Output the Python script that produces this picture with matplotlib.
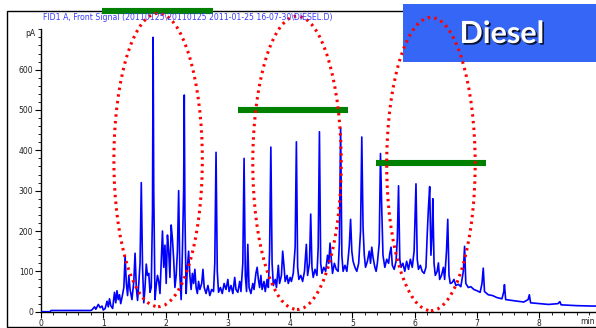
import matplotlib
matplotlib.use('Agg')
import matplotlib.pyplot as plt
import matplotlib.patheffects as pe
from matplotlib.patches import Ellipse, Rectangle
from matplotlib.ticker import MultipleLocator

plt.rcParams['font.family'] = ['Liberation Sans Narrow', 'DejaVu Sans']

# Cromatograma FID1 A - diesel (tempo em min, sinal em pA)
time_min = [
    0.00, 0.15, 0.16, 0.80, 0.82, 0.86, 0.88, 0.92, 0.95, 0.98, 1.00, 1.03, 1.06, 1.08,
    1.10, 1.12, 1.15, 1.18, 1.20, 1.22, 1.24, 1.26, 1.28, 1.30, 1.33, 1.35, 1.37, 1.39,
    1.41, 1.43, 1.46, 1.49, 1.51, 1.53, 1.55, 1.57, 1.59, 1.61, 1.63, 1.65, 1.67, 1.69,
    1.71, 1.73, 1.75, 1.77, 1.79, 1.80, 1.81, 1.83, 1.85, 1.87, 1.89, 1.91, 1.93, 1.95,
    1.97, 1.99, 2.01, 2.03, 2.05, 2.07, 2.09, 2.11, 2.13, 2.15, 2.17, 2.19, 2.21, 2.23,
    2.25, 2.27, 2.29, 2.30, 2.31, 2.33, 2.35, 2.37, 2.39, 2.41, 2.43, 2.45, 2.47, 2.49,
    2.51, 2.53, 2.55, 2.58, 2.60, 2.62, 2.65, 2.68, 2.71, 2.74, 2.77, 2.79, 2.81, 2.83,
    2.85, 2.88, 2.91, 2.94, 2.97, 3.00, 3.02, 3.05, 3.08, 3.11, 3.13, 3.16, 3.19, 3.21,
    3.24, 3.26, 3.28, 3.30, 3.32, 3.34, 3.37, 3.40, 3.42, 3.45, 3.47, 3.49, 3.51, 3.53,
    3.55, 3.58, 3.60, 3.63, 3.65, 3.67, 3.69, 3.71, 3.73, 3.76, 3.78, 3.81, 3.83, 3.86,
    3.88, 3.90, 3.92, 3.95, 3.97, 4.00, 4.02, 4.05, 4.08, 4.10, 4.12, 4.14, 4.17, 4.20,
    4.23, 4.26, 4.28, 4.31, 4.33, 4.35, 4.37, 4.40, 4.43, 4.45, 4.47, 4.49, 4.51, 4.54,
    4.57, 4.60, 4.62, 4.64, 4.66, 4.68, 4.71, 4.74, 4.77, 4.79, 4.81, 4.83, 4.85, 4.88,
    4.91, 4.93, 4.95, 4.97, 4.99, 5.01, 5.04, 5.07, 5.10, 5.13, 5.15, 5.17, 5.19, 5.21,
    5.24, 5.27, 5.29, 5.31, 5.33, 5.36, 5.38, 5.40, 5.43, 5.45, 5.47, 5.49, 5.52, 5.55,
    5.58, 5.60, 5.62, 5.64, 5.67, 5.70, 5.72, 5.74, 5.76, 5.78, 5.81, 5.84, 5.87, 5.90,
    5.93, 5.96, 5.99, 6.02, 6.04, 6.06, 6.09, 6.12, 6.15, 6.18, 6.20, 6.22, 6.24, 6.26,
    6.28, 6.29, 6.31, 6.33, 6.36, 6.38, 6.40, 6.43, 6.46, 6.48, 6.51, 6.53, 6.55, 6.57,
    6.60, 6.63, 6.66, 6.70, 6.74, 6.78, 6.80, 6.82, 6.86, 6.90, 6.95, 7.00, 7.05, 7.08,
    7.10, 7.12, 7.18, 7.25, 7.32, 7.40, 7.43, 7.44, 7.46, 7.55, 7.65, 7.75, 7.82, 7.84,
    7.86, 8.00, 8.15, 8.30, 8.33, 8.35, 8.60, 8.85, 9.10,
]
signal_pa = [
    0, 0, 3, 3, 5, 12, 6, 18, 10, 14, 4, 8, 26, 12,
    32, 15, 8, 48, 22, 52, 30, 42, 20, 35, 60, 138, 70, 40,
    90, 55, 30, 75, 145, 60, 28, 70, 120, 320, 110, 22, 60, 118,
    90, 95, 48, 60, 250, 680, 300, 30, 65, 90, 75, 45, 120, 200,
    110, 165, 70, 190, 150, 85, 215, 180, 130, 60, 90, 150, 300, 90,
    30, 150, 300, 537, 250, 45, 110, 150, 90, 55, 95, 70, 105, 60,
    45, 75, 55, 70, 105, 60, 45, 65, 40, 55, 50, 120, 395, 100,
    48, 60, 45, 70, 55, 80, 50, 65, 45, 85, 55, 48, 75, 50,
    120, 380, 90, 50, 167, 60, 45, 70, 55, 95, 110, 80, 60, 90,
    55, 75, 50, 80, 60, 150, 408, 120, 65, 80, 60, 115, 70, 90,
    150, 115, 75, 90, 70, 85, 75, 95, 160, 421, 110, 80, 90, 75,
    100, 167, 90, 120, 242, 110, 85, 105, 90, 160, 446, 120, 95, 110,
    100, 140, 120, 170, 130, 95, 120, 105, 100, 170, 455, 140, 100, 115,
    100, 130, 165, 229, 150, 125, 110, 100, 120, 200, 433, 210, 140, 110,
    125, 150, 120, 160, 135, 110, 100, 120, 170, 392, 258, 140, 110, 130,
    120, 145, 160, 115, 105, 125, 180, 312, 130, 110, 120, 100, 125, 105,
    130, 110, 150, 317, 130, 105, 115, 100, 95, 110, 190, 258, 310, 140,
    200, 280, 120, 90, 100, 121, 80, 90, 110, 80, 150, 229, 90, 70,
    72, 80, 65, 68, 62, 100, 162, 70, 60, 62, 55, 52, 48, 70,
    108, 50, 42, 40, 35, 32, 50, 67, 30, 28, 26, 24, 30, 42,
    22, 20, 18, 20, 25, 17, 15, 14, 14,
]

title = r'FID1 A, Front Signal (20110125\20110125 2011-01-25 16-07-30\DIESEL.D)'
sample = 'Diesel'

fig = plt.figure(figsize=(5.96, 3.28), dpi=100)
ax = fig.add_axes([41 / 596, 16.3 / 328, 555 / 596, 282.4 / 328])

ax.plot(time_min, signal_pa, color='#0000ff', lw=1.2, zorder=3)

ax.set_xlim(0, 8.91)
ax.set_ylim(0, 700)
ax.set_xticks(range(0, 9))
ax.set_yticks(range(0, 700, 100))
ax.xaxis.set_minor_locator(MultipleLocator(0.2))
ax.yaxis.set_minor_locator(MultipleLocator(20))
ax.tick_params(which='major', direction='out', length=4, width=0.8, labelsize=5.5,
               labelcolor='#222222', pad=1.5)
ax.tick_params(which='minor', direction='out', length=2, width=0.6)
for s in ['top', 'right']:
    ax.spines[s].set_visible(False)
ax.spines['left'].set_linewidth(1.0)
ax.spines['bottom'].set_linewidth(1.0)

fig.text(30 / 596, 1 - 33 / 328, 'pA', fontsize=5.5, color='#222222', ha='center', va='center')
fig.text(595 / 596, 1 - 322 / 328, 'min', fontsize=5.5, color='#222222', ha='right', va='center')
fig.text(43 / 596, 1 - 17 / 328, title, fontsize=5.6, color='#3a3aff', ha='left', va='center')

# moldura
ax.add_patch(Rectangle((7 / 596, 1 / 328), 1.0, 316 / 328, transform=fig.transFigure,
                       fill=False, ec='black', lw=1.0, clip_on=False, zorder=1))

# caixa com o nome da amostra
ax.add_patch(Rectangle((403 / 596, 266 / 328), 0.4, 58 / 328, transform=fig.transFigure,
                       fc='#3566f5', ec='none', clip_on=False, zorder=4))
fig.text(502 / 596, 1 - 34 / 328, sample, fontsize=22, fontweight='bold', color='white',
         family=['Lato', 'DejaVu Sans'], ha='center', va='center', zorder=5,
         path_effects=[pe.SimplePatchShadow(offset=(1.2, -1.2), shadow_rgbFace='black', alpha=0.8),
                       pe.Normal()])

# faixas verdes
for x0, x1, y in [(0.98, 2.76, 745), (3.16, 4.93, 499), (5.38, 7.14, 369)]:
    ax.plot([x0, x1], [y, y], color='#008000', lw=4.4, solid_capstyle='butt',
            clip_on=False, zorder=6)

# elipses pontilhadas
for cx, cy in [(1.88, 376), (4.11, 369), (6.26, 366)]:
    ax.add_patch(Ellipse((cx, cy), 1.42, 727, fill=False, ec='#ff0000', lw=2.2,
                         linestyle=(0, (0.8, 1.4)), clip_on=False, zorder=7))

plt.savefig('out.png', dpi=100)
